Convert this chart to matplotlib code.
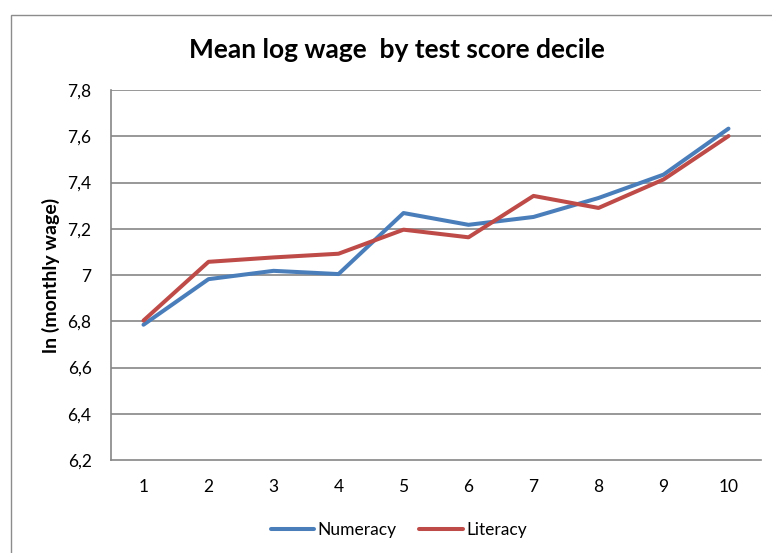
import matplotlib.pyplot as plt
from matplotlib.patches import Rectangle

plt.rcParams['font.family'] = ['Lato', 'DejaVu Sans']

deciles = [1, 2, 3, 4, 5, 6, 7, 8, 9, 10]
numeracy = [6.785, 6.982, 7.018, 7.004, 7.268, 7.217, 7.251, 7.333, 7.434, 7.633]
literacy = [6.803, 7.057, 7.076, 7.092, 7.196, 7.163, 7.342, 7.290, 7.413, 7.601]
yticks = [6.2, 6.4, 6.6, 6.8, 7.0, 7.2, 7.4, 7.6, 7.8]
ytick_labels = ['6,2', '6,4', '6,6', '6,8', '7', '7,2', '7,4', '7,6', '7,8']

fig = plt.figure(figsize=(7.72, 5.53), dpi=100)
# outer chart frame (runs off the right and bottom edge)
fig.patches.append(Rectangle((11/772, -0.1), 1.2, 1-15/553+0.1, transform=fig.transFigure,
                             fill=False, edgecolor='#8c8c8c', lw=1.0))

ax = fig.add_axes([111/772, 1-460/553, 650/772, 370/553])
ax.plot(deciles, numeracy, color='#4a7ebb', lw=2.9, label='Numeracy', solid_capstyle='round')
ax.plot(deciles, literacy, color='#be4b48', lw=2.9, label='Literacy', solid_capstyle='round')

ax.set_xlim(0.5, 10.5)
ax.set_ylim(6.2, 7.8)
ax.set_xticks(deciles)
ax.set_yticks(yticks)
ax.set_yticklabels(ytick_labels)
ax.tick_params(length=0, labelsize=12.5, colors='black')
ax.tick_params(axis='y', pad=14)
ax.tick_params(axis='x', pad=14)
for yv in yticks[1:]:
    ax.axhline(yv, color='#868686', lw=1.2, zorder=0)
for s in ['top', 'right']:
    ax.spines[s].set_visible(False)
for s in ['left', 'bottom']:
    ax.spines[s].set_color('#868686')
    ax.spines[s].set_linewidth(1.2)

ax.set_ylabel('ln (monthly wage)', fontsize=14, fontweight='bold', labelpad=5)
fig.text(397/772, 1-50/553, 'Mean log wage  by test score decile', fontsize=19,
         fontweight='bold', ha='center', va='center')
fig.legend(loc='center', bbox_to_anchor=(399/772, 1-530/553), ncol=2, frameon=False,
           fontsize=12.5, handlelength=2.5, handletextpad=0.2, columnspacing=1.3)

fig.savefig('out.png', dpi=100)
